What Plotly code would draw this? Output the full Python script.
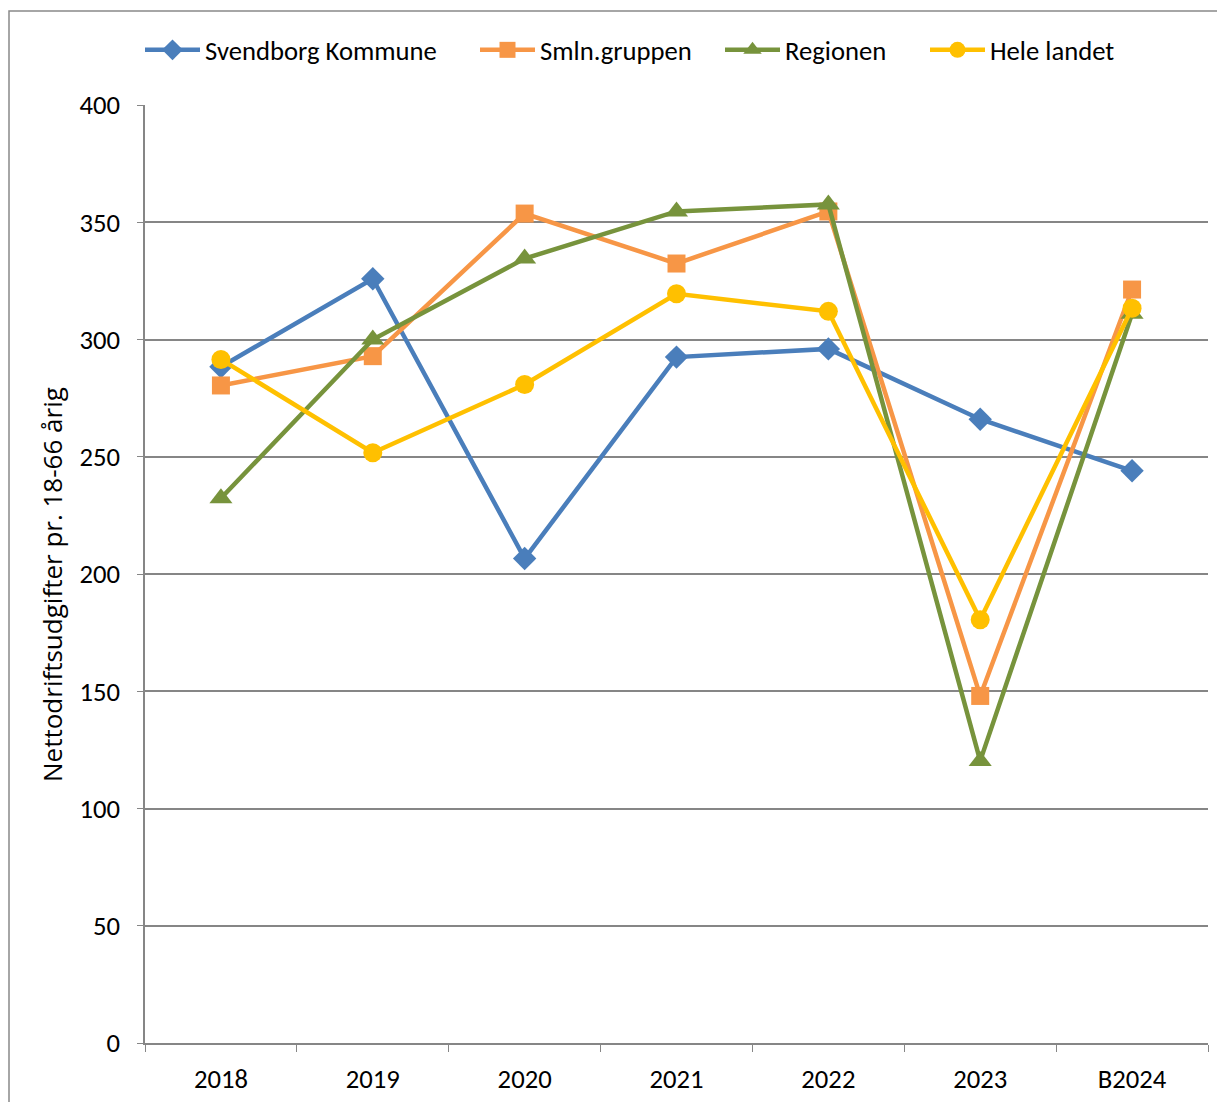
import plotly.graph_objects as go

categories = ["2018", "2019", "2020", "2021", "2022", "2023", "B2024"]
svendborg = [288.4, 325.9, 206.6, 292.5, 296.0, 266.0, 244.0]
smln = [280.4, 292.9, 353.7, 332.4, 354.6, 148.0, 321.3]
regionen = [232.3, 300.0, 334.5, 354.6, 357.6, 120.3, 311.0]
hele = [291.5, 251.7, 280.8, 319.5, 312.0, 180.5, 313.3]

series_names = ["Svendborg Kommune", "Smln.gruppen", "Regionen", "Hele landet"]
series_values = [svendborg, smln, regionen, hele]
colors = ["#4A7EBB", "#F79646", "#77933C", "#FFC000"]
symbols = ["diamond", "square", "triangle-up", "circle"]
sizes = [18, 18, 20, 19]
legend_px = [140, 475, 720, 925]
y_title = "Nettodriftsudgifter pr. 18-66 årig"

FONT = "Calibri, Carlito, 'Liberation Sans', Arial, sans-serif"
TITLE_FONT = "'Open Sans', 'DejaVu Sans', sans-serif"

# page body has an 8px margin; compensate so the plot lands where intended
OFF = 8
W, H = 1225 - OFF, 1102 - OFF
ML, MR, MT, MB = 145 - OFF, 17, 105 - OFF, 59
PW = W - ML - MR
PH = H - MT - MB

fig = go.Figure()
legends = {}
for i, (name, vals, col, sym, sz) in enumerate(zip(series_names, series_values, colors, symbols, sizes)):
    lg = "legend" if i == 0 else f"legend{i+1}"
    fig.add_trace(go.Scatter(
        x=categories, y=vals, name=name, mode="lines+markers",
        line=dict(color=col, width=4.5),
        marker=dict(symbol=sym, size=sz, color=col, line=dict(width=0)),
        legend=lg,
    ))
    legends[lg] = dict(
        x=(legend_px[i] - OFF - ML) / PW, xanchor="left",
        y=1 + (105 - 50) / PH, yanchor="middle",
        orientation="h", bgcolor="rgba(0,0,0,0)", borderwidth=0,
        font=dict(family=FONT, size=26.67, color="black"), itemwidth=55,
    )

fig.update_layout(
    width=W, height=H,
    margin=dict(l=ML, r=MR, t=MT, b=MB, autoexpand=False),
    paper_bgcolor="white", plot_bgcolor="white",
    font=dict(family=FONT, size=26.67, color="black"),
    showlegend=True,
    shapes=[dict(type="rect", xref="paper", yref="paper",
                 x0=(9 - 145) / PW, x1=1.2, y0=-0.3, y1=1 + (105 - 11) / PH,
                 line=dict(color="#898989", width=1.5), fillcolor="rgba(0,0,0,0)",
                 layer="below")],
    annotations=[dict(text=y_title, textangle=-90, showarrow=False,
                      xref="paper", yref="paper",
                      x=(52 - 145) / PW, xanchor="center",
                      y=(1043 - 585) / PH, yanchor="middle",
                      font=dict(family=TITLE_FONT, size=26, color="black"))],
    **legends,
)

fig.update_xaxes(
    type="category", range=[-0.5, 6.5],
    showline=True, linecolor="#868686", linewidth=2,
    ticks="outside", tickson="boundaries", ticklen=7, tickcolor="#868686", tickwidth=1.3,
    showgrid=False, ticklabelstandoff=11,
    tickfont=dict(family=FONT, size=26.67, color="black"),
)
fig.update_yaxes(
    range=[0, 400], dtick=50, tick0=0,
    showline=True, linecolor="#868686", linewidth=1.5,
    showgrid=True, gridcolor="#868686", gridwidth=1.5,
    ticks="outside", ticklen=6, tickcolor="#868686", tickwidth=1.3,
    ticklabelstandoff=12, zeroline=False,
    tickfont=dict(family=FONT, size=26.67, color="black"),
)

fig.write_html("out.html")
